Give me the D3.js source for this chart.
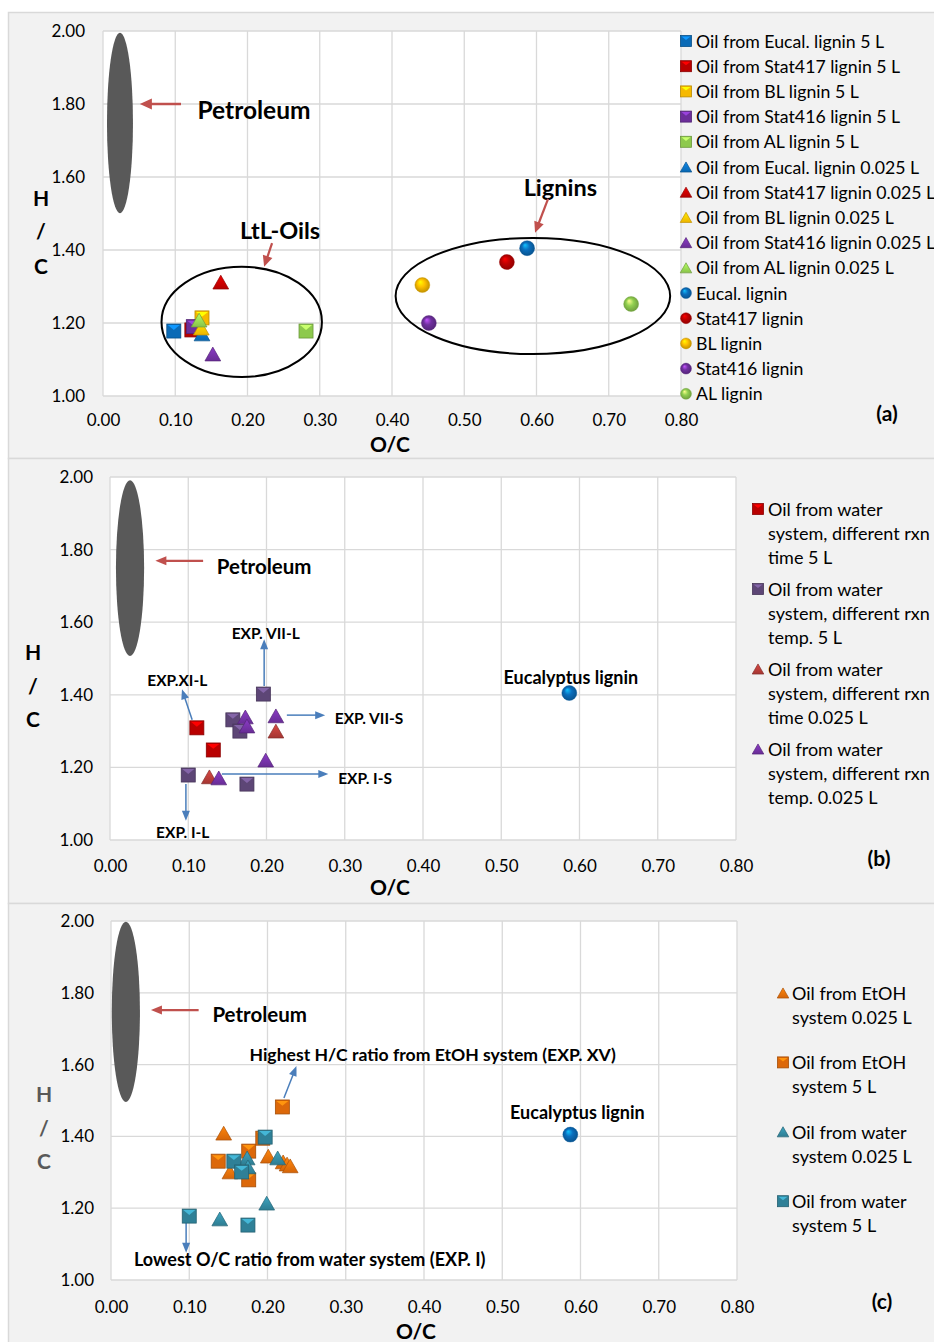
<!DOCTYPE html>
<html>
<head>
<meta charset="utf-8">
<script src="https://cdn.jsdelivr.net/npm/d3@7"></script>
<style>
  body { margin: 0; background: #fff; }
  svg { display: block; }
  text { font-family: Lato, "Open Sans", "Liberation Sans", sans-serif; fill: #000; }
</style>
</head>
<body>
<svg id="chart" width="934" height="1342"></svg>
<script>
// ---------- axis ticks ----------
const xTicks = [0, 0.1, 0.2, 0.3, 0.4, 0.5, 0.6, 0.7, 0.8];
const yTicks = [1.0, 1.2, 1.4, 1.6, 1.8, 2.0];

// ---------- panel (a): lignins and their oils ----------
const ligninNames = ["Eucal.", "Stat417", "BL", "Stat416", "AL"];
const ligninColors = ["#0a6ebd", "#c00000", "#ffc000", "#7030a0", "#92d050"];
const oil5L_OC   = [0.098, 0.123, 0.137, 0.125, 0.281];
const oil5L_HC   = [1.178, 1.181, 1.214, 1.190, 1.178];
const oil025_OC  = [0.137, 0.163, 0.136, 0.152, 0.133];
const oil025_HC  = [1.170, 1.312, 1.186, 1.115, 1.208];
const lignin_OC  = [0.587, 0.559, 0.442, 0.451, 0.731];
const lignin_HC  = [1.405, 1.367, 1.304, 1.200, 1.252];

// ---------- panel (b): water system ----------
const waterTime5L_OC  = [0.111, 0.132];
const waterTime5L_HC  = [1.309, 1.248];
const waterTemp5L_OC  = [0.100, 0.196, 0.157, 0.166, 0.175];
const waterTemp5L_HC  = [1.179, 1.402, 1.331, 1.300, 1.154];
const waterTime025_OC = [0.127, 0.212];
const waterTime025_HC = [1.174, 1.300];
const waterTemp025_OC = [0.139, 0.173, 0.175, 0.212, 0.199];
const waterTemp025_HC = [1.171, 1.339, 1.314, 1.342, 1.220];

// ---------- panel (c): EtOH vs water ----------
const etoh025_OC  = [0.144, 0.152, 0.201, 0.220, 0.225, 0.229];
const etoh025_HC  = [1.409, 1.301, 1.345, 1.329, 1.323, 1.318];
const etoh5L_OC   = [0.219, 0.137, 0.176, 0.176, 0.194];
const etoh5L_HC   = [1.482, 1.331, 1.359, 1.279, 1.395];
const water025_OC = [0.174, 0.175, 0.213, 0.199, 0.139];
const water025_HC = [1.340, 1.315, 1.340, 1.214, 1.170];
const water5L_OC  = [0.197, 0.157, 0.167, 0.100, 0.175];
const water5L_HC  = [1.398, 1.331, 1.301, 1.178, 1.153];

// Eucalyptus lignin reference point (panels b, c)
const eucalLignin_OC = [0.587];
const eucalLignin_HC = [1.405];

// ---------- drawing ----------
const svg = d3.select("#chart");
const defs = svg.append("defs");
let gradId = 0;

function sphereGrad(color) {
  const id = "sph" + (gradId++);
  const c = d3.color(color);
  const g = defs.append("radialGradient").attr("id", id)
    .attr("cx", "50%").attr("cy", "50%").attr("r", "55%")
    .attr("fx", "35%").attr("fy", "28%");
  g.append("stop").attr("offset", "0%").attr("stop-color", c.brighter(1.6));
  g.append("stop").attr("offset", "45%").attr("stop-color", c);
  g.append("stop").attr("offset", "100%").attr("stop-color", c.darker(0.9));
  return id;
}
function triGrad(color) {
  const id = "tri" + (gradId++);
  const c = d3.color(color);
  const g = defs.append("linearGradient").attr("id", id)
    .attr("x1", 0).attr("y1", 0).attr("x2", 0).attr("y2", 1);
  g.append("stop").attr("offset", "0%").attr("stop-color", c.brighter(0.6));
  g.append("stop").attr("offset", "100%").attr("stop-color", c.darker(0.2));
  return id;
}

function drawMarker(g, shape, color, cx, cy, s) {
  const c = d3.color(color);
  const m = g.append("g").attr("transform", `translate(${cx},${cy})`);
  if (shape === "square") {
    m.append("rect").attr("x", -s / 2).attr("y", -s / 2).attr("width", s).attr("height", s)
      .attr("fill", c.darker(0.1)).attr("stroke", c.darker(0.9)).attr("stroke-width", 0.8);
    m.append("path")
      .attr("d", `M${-s / 2 + 1},${-s / 2 + 1}L${s / 2 - 1},${-s / 2 + 1}L0,${-s / 2 + s * 0.42}Z`)
      .attr("fill", c.brighter(0.9));
  } else if (shape === "triangle") {
    const w = s * 1.05, h = s * 0.92;
    m.append("path").attr("d", `M0,${-h / 2}L${w / 2},${h / 2}L${-w / 2},${h / 2}Z`)
      .attr("fill", `url(#${triGrad(color)})`).attr("stroke", c.darker(0.8)).attr("stroke-width", 0.7);
  } else {
    m.append("circle").attr("r", s / 2)
      .attr("fill", `url(#${sphereGrad(color)})`).attr("stroke", c.darker(0.6)).attr("stroke-width", 0.4);
  }
}

function arrow(g, x1, y1, x2, y2, color, w, hl, hw) {
  const dx = x2 - x1, dy = y2 - y1, L = Math.hypot(dx, dy);
  const ux = dx / L, uy = dy / L;
  const bx = x2 - ux * hl, by = y2 - uy * hl;
  g.append("line").attr("x1", x1).attr("y1", y1).attr("x2", bx + ux * 1).attr("y2", by + uy * 1)
    .attr("stroke", color).attr("stroke-width", w);
  g.append("path")
    .attr("d", `M${x2},${y2}L${bx - uy * hw / 2},${by + ux * hw / 2}L${bx + uy * hw / 2},${by - ux * hw / 2}Z`)
    .attr("fill", color);
}

function panel(cfg) {
  const g = svg.append("g");
  // panel background
  g.append("rect").attr("x", 8.5).attr("y", cfg.bgTop + 0.5).attr("width", 940).attr("height", cfg.bgBottom - cfg.bgTop)
    .attr("fill", "#f2f2f2").attr("stroke", "#d9d9d9").attr("stroke-width", 1.5);

  const x = d3.scaleLinear().domain([0, 0.8]).range([cfg.left, cfg.right]);
  const y = d3.scaleLinear().domain([1, 2]).range([cfg.bottom, cfg.top]);

  g.append("rect").attr("x", cfg.left).attr("y", cfg.top)
    .attr("width", cfg.right - cfg.left).attr("height", cfg.bottom - cfg.top)
    .attr("fill", "#fff");

  const grid = g.append("g").attr("stroke", "#d9d9d9").attr("stroke-width", 1.3);
  xTicks.forEach(t => grid.append("line").attr("x1", x(t)).attr("x2", x(t))
    .attr("y1", cfg.top).attr("y2", cfg.bottom));
  yTicks.forEach(t => grid.append("line").attr("y1", y(t)).attr("y2", y(t))
    .attr("x1", cfg.left).attr("x2", cfg.right));

  const ax = g.append("g").attr("transform", `translate(0,${cfg.bottom})`)
    .call(d3.axisBottom(x).tickValues(xTicks).tickFormat(d3.format(".2f")).tickSize(0).tickPadding(cfg.xPad));
  const ay = g.append("g").attr("transform", `translate(${cfg.left},0)`)
    .call(d3.axisLeft(y).tickValues(yTicks).tickFormat(d3.format(".2f")).tickSize(0).tickPadding(cfg.yPad));
  [ax, ay].forEach(a => {
    a.select(".domain").remove();
    a.selectAll("text").attr("font-size", 17).attr("font-family", "Lato, sans-serif").attr("fill", "#000");
  });

  // axis titles
  g.append("text").attr("x", cfg.ocX).attr("y", cfg.ocY).attr("text-anchor", "middle")
    .attr("dominant-baseline", "central").attr("font-weight", "bold").attr("font-size", 21).text("O/C");
  ["H", "/", "C"].forEach((ch, i) => {
    g.append("text").attr("x", cfg.hcX).attr("y", cfg.hcY[i]).attr("text-anchor", "middle")
      .attr("dominant-baseline", "central").attr("font-weight", "bold").attr("font-size", 21)
      .style("fill", cfg.hcColor).text(ch);
  });
  g.append("text").attr("x", cfg.tagX).attr("y", cfg.tagY).attr("text-anchor", "middle")
    .attr("dominant-baseline", "central").attr("font-weight", "bold").attr("font-size", 21).text(cfg.tag);

  // petroleum region
  const pe = cfg.petroleum;
  g.append("ellipse").attr("cx", x(pe.cx)).attr("cy", y(pe.cy))
    .attr("rx", x(pe.rx) - x(0)).attr("ry", y(1) - y(1 + pe.ry)).attr("fill", "#595959");
  return { g, x, y };
}

function bold(g, px, py, txt, size) {
  return g.append("text").attr("x", px).attr("y", py).attr("text-anchor", "middle")
    .attr("dominant-baseline", "central").attr("font-weight", "bold").attr("font-size", size).text(txt);
}

const RED = "#c0504d", BLUE = "#4a7ebb";

// ===== Panel (a) =====
{
  const { g, x, y } = panel({
    bgTop: 12, bgBottom: 458, left: 103, right: 681, top: 31, bottom: 396,
    xPad: 18, yPad: 18, ocX: 390, ocY: 443, hcX: 41, hcY: [197, 230, 265], hcColor: "#000",
    tagX: 887, tagY: 412, tag: "(a)",
    petroleum: { cx: 0.0235, cy: 1.748, rx: 0.018, ry: 0.247 }
  });
  // cluster outlines
  g.append("ellipse").attr("cx", x(0.192)).attr("cy", y(1.203)).attr("rx", x(0.111) - x(0))
    .attr("ry", y(1) - y(1.151)).attr("fill", "none").attr("stroke", "#000").attr("stroke-width", 2);
  g.append("ellipse").attr("cx", x(0.595)).attr("cy", y(1.274)).attr("rx", x(0.19) - x(0))
    .attr("ry", y(1) - y(1.159)).attr("fill", "none").attr("stroke", "#000").attr("stroke-width", 2);

  arrow(g, x(0.108), y(1.80), x(0.051), y(1.80), RED, 2.5, 12, 11);
  bold(g, x(0.209), y(1.786), "Petroleum", 24.5);
  bold(g, x(0.245), y(1.455), "LtL-Oils", 23.5);
  arrow(g, x(0.234), y(1.419), x(0.223), y(1.354), RED, 2.2, 11, 10);
  bold(g, x(0.633), y(1.573), "Lignins", 23.5);
  arrow(g, x(0.616), y(1.540), x(0.598), y(1.447), RED, 2.2, 11, 10);

  const pts = g.append("g");
  ligninColors.forEach((c, i) => drawMarker(pts, "square", c, x(oil5L_OC[i]), y(oil5L_HC[i]), 14));
  ligninColors.forEach((c, i) => drawMarker(pts, "triangle", c, x(oil025_OC[i]), y(oil025_HC[i]), 15));
  ligninColors.forEach((c, i) => drawMarker(pts, "circle", c, x(lignin_OC[i]), y(lignin_HC[i]), 15));

  // legend
  const labels = [
    ...ligninNames.map(n => `Oil from ${n} lignin 5 L`),
    ...ligninNames.map(n => `Oil from ${n} lignin 0.025 L`),
    ...ligninNames.map(n => `${n} lignin`)
  ];
  const shapes = ["square", "triangle", "circle"];
  const lg = g.append("g");
  labels.forEach((lab, i) => {
    const ly = 41 + i * 25.2;
    drawMarker(lg, shapes[Math.floor(i / 5)], ligninColors[i % 5], 686, ly, 11);
    lg.append("text").attr("x", 696).attr("y", ly).attr("dominant-baseline", "central")
      .attr("font-size", 17.7).text(lab);
  });
}

// ===== Panel (b) =====
{
  const { g, x, y } = panel({
    bgTop: 458, bgBottom: 903, left: 110, right: 736, top: 477, bottom: 840,
    xPad: 20, yPad: 17, ocX: 390, ocY: 886, hcX: 33, hcY: [651, 685, 718], hcColor: "#000",
    tagX: 879, tagY: 857, tag: "(b)",
    petroleum: { cx: 0.0256, cy: 1.749, rx: 0.018, ry: 0.242 }
  });
  arrow(g, x(0.119), y(1.769), x(0.058), y(1.769), RED, 2.2, 11, 9);
  bold(g, x(0.197), y(1.755), "Petroleum", 20.5);

  arrow(g, x(0.197), y(1.424), x(0.197), y(1.553), BLUE, 1.5, 10, 8);
  bold(g, x(0.199), y(1.570), "EXP. VII-L", 15.5);
  arrow(g, x(0.105), y(1.331), x(0.092), y(1.415), BLUE, 1.5, 10, 8);
  bold(g, x(0.086), y(1.441), "EXP.XI-L", 15.5);
  arrow(g, x(0.226), y(1.344), x(0.275), y(1.344), BLUE, 1.5, 10, 8);
  bold(g, x(0.331), y(1.336), "EXP. VII-S", 15.5);
  arrow(g, x(0.143), y(1.182), x(0.279), y(1.182), BLUE, 1.5, 10, 8);
  bold(g, x(0.326), y(1.171), "EXP. I-S", 15.5);
  arrow(g, x(0.097), y(1.154), x(0.097), y(1.053), BLUE, 1.5, 10, 8);
  bold(g, x(0.093), y(1.022), "EXP. I-L", 15.5);
  bold(g, x(0.589), y(1.449), "Eucalyptus lignin", 18);

  const pts = g.append("g");
  const C_TIME5 = "#c00000", C_TEMP5 = "#60497a", C_TIME025 = "#b03a36", C_TEMP025 = "#7030a0";
  waterTime5L_OC.forEach((v, i) => drawMarker(pts, "square", C_TIME5, x(v), y(waterTime5L_HC[i]), 14));
  waterTemp5L_OC.forEach((v, i) => drawMarker(pts, "square", C_TEMP5, x(v), y(waterTemp5L_HC[i]), 14));
  waterTime025_OC.forEach((v, i) => drawMarker(pts, "triangle", C_TIME025, x(v), y(waterTime025_HC[i]), 15));
  waterTemp025_OC.forEach((v, i) => drawMarker(pts, "triangle", C_TEMP025, x(v), y(waterTemp025_HC[i]), 15));
  eucalLignin_OC.forEach((v, i) => drawMarker(pts, "circle", "#0a6ebd", x(v), y(eucalLignin_HC[i]), 15));

  const legend = [
    { shape: "square", color: C_TIME5, lines: ["Oil from water", "system, different rxn", "time 5 L"] },
    { shape: "square", color: C_TEMP5, lines: ["Oil from water", "system, different rxn", "temp. 5 L"] },
    { shape: "triangle", color: C_TIME025, lines: ["Oil from water", "system, different rxn", "time 0.025 L"] },
    { shape: "triangle", color: C_TEMP025, lines: ["Oil from water", "system, different rxn", "temp. 0.025 L"] }
  ];
  legend.forEach((d, i) => {
    const ly = 509 + i * 80;
    drawMarker(g, d.shape, d.color, 758, ly, 11);
    d.lines.forEach((t, j) => g.append("text").attr("x", 768).attr("y", ly + j * 24)
      .attr("dominant-baseline", "central").attr("font-size", 18).text(t));
  });
}

// ===== Panel (c) =====
{
  const { g, x, y } = panel({
    bgTop: 903, bgBottom: 1350, left: 111, right: 737, top: 921, bottom: 1280,
    xPad: 21, yPad: 17, ocX: 416, ocY: 1330, hcX: 44, hcY: [1093, 1127, 1160], hcColor: "#595959",
    tagX: 882, tagY: 1300, tag: "(c)",
    petroleum: { cx: 0.019, cy: 1.747, rx: 0.018, ry: 0.251 }
  });
  arrow(g, x(0.112), y(1.752), x(0.051), y(1.752), RED, 2.2, 11, 9);
  bold(g, x(0.190), y(1.741), "Petroleum", 20.5);
  arrow(g, x(0.221), y(1.507), x(0.237), y(1.596), BLUE, 1.5, 10, 8);
  bold(g, x(0.411), y(1.627), "Highest H/C ratio from EtOH system (EXP. XV)", 17.6);
  bold(g, x(0.596), y(1.468), "Eucalyptus lignin", 18);
  arrow(g, x(0.096), y(1.162), x(0.096), y(1.076), BLUE, 1.5, 10, 8);
  bold(g, x(0.254), y(1.058), "Lowest O/C ratio from water system (EXP. I)", 18);

  const ORANGE = "#e46c0a", TEAL = "#31859c";
  const pts = g.append("g");
  etoh025_OC.forEach((v, i) => drawMarker(pts, "triangle", ORANGE, x(v), y(etoh025_HC[i]), 15));
  etoh5L_OC.forEach((v, i) => drawMarker(pts, "square", ORANGE, x(v), y(etoh5L_HC[i]), 14));
  water025_OC.forEach((v, i) => drawMarker(pts, "triangle", TEAL, x(v), y(water025_HC[i]), 15));
  water5L_OC.forEach((v, i) => drawMarker(pts, "square", TEAL, x(v), y(water5L_HC[i]), 14));
  eucalLignin_OC.forEach((v, i) => drawMarker(pts, "circle", "#0a6ebd", x(v), y(eucalLignin_HC[i]), 15));

  const legend = [
    { shape: "triangle", color: ORANGE, lines: ["Oil from EtOH", "system 0.025 L"] },
    { shape: "square", color: ORANGE, lines: ["Oil from EtOH", "system 5 L"] },
    { shape: "triangle", color: TEAL, lines: ["Oil from water", "system 0.025 L"] },
    { shape: "square", color: TEAL, lines: ["Oil from water", "system 5 L"] }
  ];
  legend.forEach((d, i) => {
    const ly = 993 + i * 69.4;
    drawMarker(g, d.shape, d.color, 783, ly, 11);
    d.lines.forEach((t, j) => g.append("text").attr("x", 792).attr("y", ly + j * 24)
      .attr("dominant-baseline", "central").attr("font-size", 18).text(t));
  });
}
</script>
</body>
</html>
